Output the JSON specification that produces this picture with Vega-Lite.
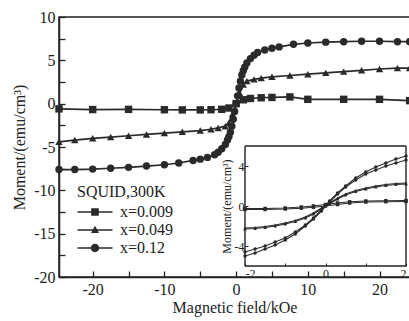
{
  "$schema": "https://vega.github.io/schema/vega-lite/v6.json",
  "width": 351,
  "height": 260,
  "autosize": "none",
  "padding": {"left": 59, "top": 17, "right": 0, "bottom": 44},
  "background": "white",
  "config": {
    "font": "Liberation Serif",
    "view": {"stroke": "#222", "strokeWidth": 1.5},
    "axis": {"grid": false, "labelColor": "#222", "titleColor": "#222", "domainColor": "#222", "tickColor": "#222", "titleFontWeight": "normal"}
  },
  "datasets": {
    "main": [
      {"s":"x=0.009","H":-24.7,"M":-0.6},{"s":"x=0.009","H":-20,"M":-0.68},{"s":"x=0.009","H":-15,"M":-0.66},{"s":"x=0.009","H":-10,"M":-0.7},{"s":"x=0.009","H":-7.5,"M":-0.72},{"s":"x=0.009","H":-5,"M":-0.72},{"s":"x=0.009","H":-3.5,"M":-0.7},{"s":"x=0.009","H":-2,"M":-0.65},{"s":"x=0.009","H":-1,"M":-0.5},{"s":"x=0.009","H":0,"M":0},{"s":"x=0.009","H":1,"M":0.45},{"s":"x=0.009","H":2,"M":0.6},{"s":"x=0.009","H":3.5,"M":0.68},{"s":"x=0.009","H":5,"M":0.72},{"s":"x=0.009","H":7.5,"M":0.78},{"s":"x=0.009","H":10,"M":0.5},{"s":"x=0.009","H":15,"M":0.5},{"s":"x=0.009","H":20,"M":0.5},{"s":"x=0.009","H":24.2,"M":0.35},
      {"s":"x=0.049","H":-24.7,"M":-4.4},{"s":"x=0.049","H":-22.5,"M":-4.2},{"s":"x=0.049","H":-20,"M":-4.0},{"s":"x=0.049","H":-17.5,"M":-3.85},{"s":"x=0.049","H":-15,"M":-3.7},{"s":"x=0.049","H":-12.5,"M":-3.55},{"s":"x=0.049","H":-10,"M":-3.4},{"s":"x=0.049","H":-7.5,"M":-3.25},{"s":"x=0.049","H":-5,"M":-3.1},{"s":"x=0.049","H":-3.5,"M":-2.95},{"s":"x=0.049","H":-2.5,"M":-2.8},{"s":"x=0.049","H":-1.5,"M":-2.6},{"s":"x=0.049","H":-1,"M":-2.2},{"s":"x=0.049","H":-0.5,"M":-1.2},{"s":"x=0.049","H":0,"M":0},{"s":"x=0.049","H":0.5,"M":1.2},{"s":"x=0.049","H":1,"M":2.2},{"s":"x=0.049","H":1.5,"M":2.6},{"s":"x=0.049","H":2.5,"M":2.8},{"s":"x=0.049","H":3.5,"M":2.95},{"s":"x=0.049","H":5,"M":3.1},{"s":"x=0.049","H":7.5,"M":3.25},{"s":"x=0.049","H":10,"M":3.4},{"s":"x=0.049","H":12.5,"M":3.55},{"s":"x=0.049","H":15,"M":3.7},{"s":"x=0.049","H":17.5,"M":3.85},{"s":"x=0.049","H":20,"M":4.0},{"s":"x=0.049","H":22.5,"M":4.1},{"s":"x=0.049","H":24.2,"M":4.1},
      {"s":"x=0.12","H":-24.7,"M":-7.6},{"s":"x=0.12","H":-22.5,"M":-7.6},{"s":"x=0.12","H":-20,"M":-7.55},{"s":"x=0.12","H":-17.5,"M":-7.45},{"s":"x=0.12","H":-15,"M":-7.35},{"s":"x=0.12","H":-12.5,"M":-7.2},{"s":"x=0.12","H":-10,"M":-7.05},{"s":"x=0.12","H":-8,"M":-6.85},{"s":"x=0.12","H":-6,"M":-6.55},{"s":"x=0.12","H":-5,"M":-6.4},{"s":"x=0.12","H":-4,"M":-6.2},{"s":"x=0.12","H":-3,"M":-5.9},{"s":"x=0.12","H":-2.5,"M":-5.6},{"s":"x=0.12","H":-2,"M":-5.2},{"s":"x=0.12","H":-1.5,"M":-4.7},{"s":"x=0.12","H":-1.2,"M":-4.2},{"s":"x=0.12","H":-1,"M":-3.8},{"s":"x=0.12","H":-0.8,"M":-3.3},{"s":"x=0.12","H":-0.6,"M":-2.6},{"s":"x=0.12","H":-0.4,"M":-1.8},{"s":"x=0.12","H":-0.2,"M":-0.9},{"s":"x=0.12","H":0,"M":0},{"s":"x=0.12","H":0.2,"M":0.9},{"s":"x=0.12","H":0.4,"M":1.8},{"s":"x=0.12","H":0.6,"M":2.6},{"s":"x=0.12","H":0.8,"M":3.3},{"s":"x=0.12","H":1,"M":3.8},{"s":"x=0.12","H":1.2,"M":4.2},{"s":"x=0.12","H":1.5,"M":4.7},{"s":"x=0.12","H":2,"M":5.2},{"s":"x=0.12","H":2.5,"M":5.6},{"s":"x=0.12","H":3,"M":5.9},{"s":"x=0.12","H":4,"M":6.2},{"s":"x=0.12","H":5,"M":6.4},{"s":"x=0.12","H":6,"M":6.55},{"s":"x=0.12","H":8,"M":6.85},{"s":"x=0.12","H":10,"M":7.0},{"s":"x=0.12","H":12.5,"M":7.1},{"s":"x=0.12","H":15,"M":7.15},{"s":"x=0.12","H":17.5,"M":7.2},{"s":"x=0.12","H":20,"M":7.2},{"s":"x=0.12","H":22.5,"M":7.15},{"s":"x=0.12","H":24.2,"M":7.15}
    ],
    "frame": [
      {"h": -2, "h1": 2, "m": 6, "m1": 6},
      {"h": -2, "h1": 2, "m": -6, "m1": -6},
      {"h": -2, "h1": -2, "m": -6, "m1": 6},
      {"h": 2, "h1": 2, "m": -6, "m1": 6}
    ],
    "inset": [
      {"s":"x=0.009","b":"up","h":-2,"m":-0.25},{"s":"x=0.009","b":"up","h":-1.5,"m":-0.25},{"s":"x=0.009","b":"up","h":-1,"m":-0.2},{"s":"x=0.009","b":"up","h":-0.6,"m":-0.1},{"s":"x=0.009","b":"up","h":-0.3,"m":0.0},{"s":"x=0.009","b":"up","h":0,"m":0.15},{"s":"x=0.009","b":"up","h":0.3,"m":0.3},{"s":"x=0.009","b":"up","h":0.6,"m":0.42},{"s":"x=0.009","b":"up","h":1,"m":0.5},{"s":"x=0.009","b":"up","h":1.5,"m":0.53},{"s":"x=0.009","b":"up","h":2,"m":0.55},
      {"s":"x=0.009","b":"dn","h":-2,"m":-0.35},{"s":"x=0.009","b":"dn","h":-1.5,"m":-0.35},{"s":"x=0.009","b":"dn","h":-1,"m":-0.3},{"s":"x=0.009","b":"dn","h":-0.6,"m":-0.22},{"s":"x=0.009","b":"dn","h":-0.3,"m":-0.12},{"s":"x=0.009","b":"dn","h":0,"m":0.0},{"s":"x=0.009","b":"dn","h":0.3,"m":0.15},{"s":"x=0.009","b":"dn","h":0.6,"m":0.3},{"s":"x=0.009","b":"dn","h":1,"m":0.4},{"s":"x=0.009","b":"dn","h":1.5,"m":0.43},{"s":"x=0.009","b":"dn","h":2,"m":0.45},
      {"s":"x=0.049","b":"up","h":-2,"m":-2.2},{"s":"x=0.049","b":"up","h":-1.75,"m":-2.15},{"s":"x=0.049","b":"up","h":-1.5,"m":-2.05},{"s":"x=0.049","b":"up","h":-1.25,"m":-1.9},{"s":"x=0.049","b":"up","h":-1,"m":-1.7},{"s":"x=0.049","b":"up","h":-0.75,"m":-1.45},{"s":"x=0.049","b":"up","h":-0.5,"m":-1.1},{"s":"x=0.049","b":"up","h":-0.3,"m":-0.7},{"s":"x=0.049","b":"up","h":-0.1,"m":-0.2},{"s":"x=0.049","b":"up","h":0.1,"m":0.3},{"s":"x=0.049","b":"up","h":0.3,"m":0.8},{"s":"x=0.049","b":"up","h":0.5,"m":1.2},{"s":"x=0.049","b":"up","h":0.75,"m":1.55},{"s":"x=0.049","b":"up","h":1,"m":1.8},{"s":"x=0.049","b":"up","h":1.25,"m":2.0},{"s":"x=0.049","b":"up","h":1.5,"m":2.15},{"s":"x=0.049","b":"up","h":1.75,"m":2.25},{"s":"x=0.049","b":"up","h":2,"m":2.3},
      {"s":"x=0.049","b":"dn","h":-2,"m":-2.3},{"s":"x=0.049","b":"dn","h":-1.75,"m":-2.25},{"s":"x=0.049","b":"dn","h":-1.5,"m":-2.15},{"s":"x=0.049","b":"dn","h":-1.25,"m":-2.0},{"s":"x=0.049","b":"dn","h":-1,"m":-1.8},{"s":"x=0.049","b":"dn","h":-0.75,"m":-1.55},{"s":"x=0.049","b":"dn","h":-0.5,"m":-1.2},{"s":"x=0.049","b":"dn","h":-0.3,"m":-0.8},{"s":"x=0.049","b":"dn","h":-0.1,"m":-0.3},{"s":"x=0.049","b":"dn","h":0.1,"m":0.2},{"s":"x=0.049","b":"dn","h":0.3,"m":0.7},{"s":"x=0.049","b":"dn","h":0.5,"m":1.1},{"s":"x=0.049","b":"dn","h":0.75,"m":1.45},{"s":"x=0.049","b":"dn","h":1,"m":1.7},{"s":"x=0.049","b":"dn","h":1.25,"m":1.9},{"s":"x=0.049","b":"dn","h":1.5,"m":2.05},{"s":"x=0.049","b":"dn","h":1.75,"m":2.15},{"s":"x=0.049","b":"dn","h":2,"m":2.2},
      {"s":"x=0.12","b":"up","h":-2,"m":-4.6},{"s":"x=0.12","b":"up","h":-1.75,"m":-4.3},{"s":"x=0.12","b":"up","h":-1.5,"m":-4.0},{"s":"x=0.12","b":"up","h":-1.25,"m":-3.6},{"s":"x=0.12","b":"up","h":-1,"m":-3.2},{"s":"x=0.12","b":"up","h":-0.75,"m":-2.6},{"s":"x=0.12","b":"up","h":-0.5,"m":-1.9},{"s":"x=0.12","b":"up","h":-0.3,"m":-1.2},{"s":"x=0.12","b":"up","h":-0.1,"m":-0.4},{"s":"x=0.12","b":"up","h":0.1,"m":0.5},{"s":"x=0.12","b":"up","h":0.3,"m":1.3},{"s":"x=0.12","b":"up","h":0.5,"m":2.0},{"s":"x=0.12","b":"up","h":0.75,"m":2.8},{"s":"x=0.12","b":"up","h":1,"m":3.4},{"s":"x=0.12","b":"up","h":1.25,"m":3.9},{"s":"x=0.12","b":"up","h":1.5,"m":4.3},{"s":"x=0.12","b":"up","h":1.75,"m":4.7},{"s":"x=0.12","b":"up","h":2,"m":5.0},
      {"s":"x=0.12","b":"dn","h":-2,"m":-5.0},{"s":"x=0.12","b":"dn","h":-1.75,"m":-4.7},{"s":"x=0.12","b":"dn","h":-1.5,"m":-4.3},{"s":"x=0.12","b":"dn","h":-1.25,"m":-3.9},{"s":"x=0.12","b":"dn","h":-1,"m":-3.4},{"s":"x=0.12","b":"dn","h":-0.75,"m":-2.8},{"s":"x=0.12","b":"dn","h":-0.5,"m":-2.0},{"s":"x=0.12","b":"dn","h":-0.3,"m":-1.3},{"s":"x=0.12","b":"dn","h":-0.1,"m":-0.5},{"s":"x=0.12","b":"dn","h":0.1,"m":0.4},{"s":"x=0.12","b":"dn","h":0.3,"m":1.2},{"s":"x=0.12","b":"dn","h":0.5,"m":1.9},{"s":"x=0.12","b":"dn","h":0.75,"m":2.6},{"s":"x=0.12","b":"dn","h":1,"m":3.2},{"s":"x=0.12","b":"dn","h":1.25,"m":3.6},{"s":"x=0.12","b":"dn","h":1.5,"m":4.0},{"s":"x=0.12","b":"dn","h":1.75,"m":4.3},{"s":"x=0.12","b":"dn","h":2,"m":4.6}
    ]
  },
  "layer": [
    {
      "data": {"name": "main"},
      "encoding": {
        "x": {"field": "H", "type": "quantitative", "scale": {"domain": [-24.7, 24.25], "nice": false, "zero": false},
          "axis": {"orient": "bottom", "values": [-20, -15, -10, -5, 0, 5, 10, 15, 20], "labelExpr": "datum.value % 10 === 0 ? '' + datum.value : ''", "tickSize": -6, "tickWidth": 1.3, "domainWidth": 1.5, "labelPadding": 10, "labelFontSize": 16, "title": "Magnetic field/kOe", "titleFontSize": 16, "titlePadding": 2}},
        "y": {"field": "M", "type": "quantitative", "scale": {"domain": [-20, 10], "nice": false, "zero": false},
          "axis": {"orient": "left", "values": [-20, -17.5, -15, -12.5, -10, -7.5, -5, -2.5, 0, 2.5, 5, 7.5, 10], "labelExpr": "datum.value % 5 === 0 ? '' + datum.value : ''", "tickSize": -6, "tickWidth": 1.3, "domainWidth": 1.5, "labelPadding": 10, "labelFontSize": 16, "title": "Moment/(emu/cm³)", "titleFontSize": 16, "titlePadding": 6}}
      },
      "layer": [
        {"mark": {"type": "line", "color": "#2a2a2a", "strokeWidth": 1.7}, "encoding": {"detail": {"field": "s"}}},
        {"mark": {"type": "point", "filled": true, "color": "#2a2a2a", "size": 55, "opacity": 1},
          "encoding": {"shape": {"field": "s", "type": "nominal", "scale": {"range": ["square", "triangle-up", "circle"]}, "legend": null}}},
        {"mark": {"type": "point", "filled": true, "color": "#2a2a2a", "opacity": 0},
          "encoding": {"shape": {"field": "s", "type": "nominal",
            "scale": {"range": ["M-1.75,-0.08H1.75V0.08H-1.75ZM-0.38,-0.38H0.38V0.38H-0.38Z", "M-1.75,-0.07H1.75V0.07H-1.75ZM0,-0.42L0.4,0.3H-0.4Z", "M-1.75,-0.08H1.75V0.08H-1.75ZM-0.42,0A0.42,0.42,0,1,1,0.42,0A0.42,0.42,0,1,1,-0.42,0Z"]},
            "legend": {"orient": "none", "legendX": 18, "legendY": 167, "title": "SQUID,300K", "titleFontSize": 16, "titleFontWeight": "normal", "titleColor": "#222", "titlePadding": 2, "labelFontSize": 16, "labelColor": "#222", "symbolSize": 400, "symbolOpacity": 1, "symbolFillColor": "#2a2a2a", "symbolStrokeWidth": 0, "symbolOffset": 8, "labelOffset": 15, "rowPadding": 0}}}}
      ],
      "resolve": {"scale": {"shape": "independent"}}
    },
    {
      "data": {"name": "inset"},
      "encoding": {
        "x": {"field": "h", "type": "quantitative", "scale": {"domain": [-2, 2], "range": [186, 347], "nice": false, "zero": false},
          "axis": {"orient": "bottom", "offset": -11, "values": [-2, -1, 0, 1, 2], "labelExpr": "datum.value % 2 === 0 ? '' + datum.value : ''", "tickSize": -3, "domain": false, "labelPadding": 5, "labelFontSize": 12, "title": null}},
        "y": {"field": "m", "type": "quantitative", "scale": {"domain": [-6, 6], "range": [249, 129], "nice": false, "zero": false},
          "axis": {"orient": "left", "offset": -186, "values": [-4, 0, 4], "labelExpr": "'' + datum.value", "tickSize": -3, "domain": false, "labelPadding": 4, "labelFontSize": 12, "title": "Moment/(emu/cm³)", "titleFontSize": 12, "titlePadding": 1}}
      },
      "layer": [
        {"data": {"name": "frame"}, "mark": {"type": "rule", "color": "#222", "strokeWidth": 1.4},
          "encoding": {"x2": {"field": "h1"}, "y2": {"field": "m1"}}},
        {"mark": {"type": "line", "color": "#2a2a2a", "strokeWidth": 1.1}, "encoding": {"detail": [{"field": "s"}, {"field": "b"}]}},
        {"mark": {"type": "point", "filled": true, "color": "#2a2a2a", "size": 12, "opacity": 1},
          "encoding": {"shape": {"field": "s", "type": "nominal", "scale": {"range": ["square", "triangle-up", "circle"]}, "legend": null}}}
      ]
    }
  ],
  "resolve": {"scale": {"x": "independent", "y": "independent", "shape": "independent"}, "axis": {"x": "independent", "y": "independent"}}
}
